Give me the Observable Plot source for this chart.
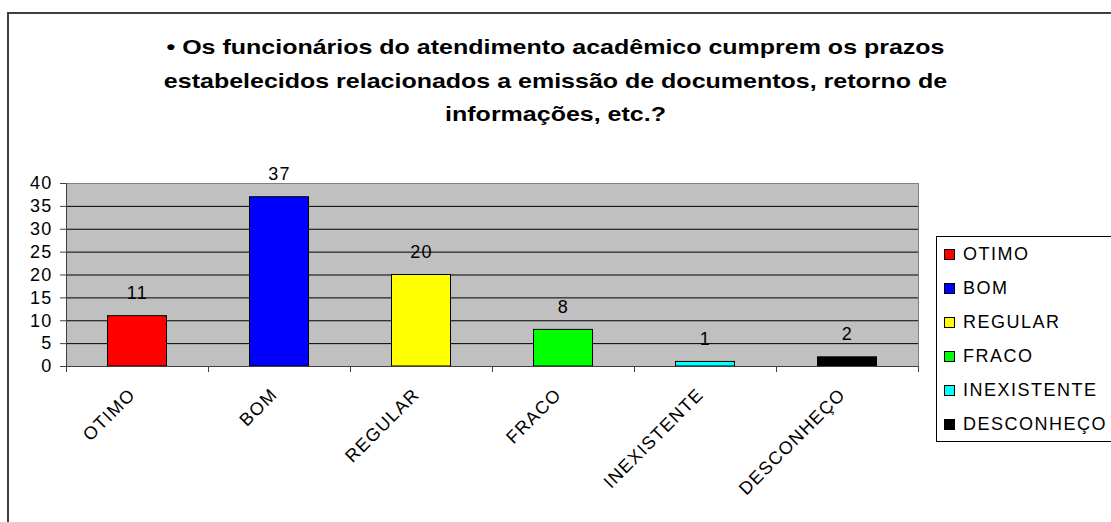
<!DOCTYPE html>
<html><head><meta charset="utf-8">
<script src="https://cdn.jsdelivr.net/npm/d3@7"></script>
<script src="https://cdn.jsdelivr.net/npm/@observablehq/plot@0.6"></script>
<style>
body{margin:0;background:#fff;font-family:"Liberation Sans",Arial,sans-serif;}
#wrap{position:relative;width:1111px;height:522px;overflow:hidden;background:#fff;}
#border{position:absolute;left:7px;top:12px;width:1200px;height:600px;border:2px solid #404040;}
#title{position:absolute;left:0;top:30px;width:1111px;text-align:center;font-weight:bold;font-size:21px;line-height:33.5px;color:#000;transform:scaleX(1.19);transform-origin:555.5px 0;}
#chart{position:absolute;left:0;top:140px;}
#chart svg text{letter-spacing:1.3px;}
#legend{position:absolute;left:936px;top:236px;width:200px;height:204px;border:1px solid #000;background:#fff;}
.item{height:34px;display:flex;align-items:center;font-size:18px;letter-spacing:1.5px;color:#000;white-space:nowrap;}
.sw{width:9px;height:9px;border:1px solid #000;margin-left:7px;margin-right:8px;flex:none;}
</style></head><body>
<div id="wrap">
  <div id="border"></div>
  <div id="title"></div>
  <div id="chart"></div>
  <div id="legend"></div>
</div>
<script>
const categories = ["OTIMO","BOM","REGULAR","FRACO","INEXISTENTE","DESCONHEÇO"];
const values = [11,37,20,8,1,2];
const colors = ["#FF0000","#0000FF","#FFFF00","#00FF00","#00FFFF","#000000"];
const yTicks = [0,5,10,15,20,25,30,35,40];
const titleLines = [
  "• Os funcionários do atendimento acadêmico cumprem os prazos",
  "estabelecidos relacionados a emissão de documentos, retorno de",
  "informações, etc.?"
];

const data = categories.map((c,i)=>({cat:c, value:values[i], color:colors[i]}));

document.getElementById("title").innerHTML = titleLines.join("<br>");

const lastCat = categories[categories.length-1];
const chart = Plot.plot({
  width: 930, height: 382,
  marginTop: 43, marginLeft: 66, marginRight: 12, marginBottom: 156,
  style: {fontFamily: "Liberation Sans, Arial, sans-serif", fontSize: "18px", color: "#000", background: "transparent"},
  x: {domain: categories, padding: 0, axis: null},
  y: {domain: [0, 40], axis: null},
  color: {type: "identity"},
  marks: [
    Plot.frame({fill: "#C0C0C0", stroke: "#808080"}),
    Plot.gridY(yTicks.slice(1, -1), {stroke: "#000", strokeOpacity: 1}),
    Plot.barY(data, {x: "cat", y: "value", fill: "color", stroke: "#000", insetLeft: 41.5, insetRight: 41.5}),
    Plot.ruleY([0], {stroke: "#404040"}),
    Plot.frame({anchor: "left", stroke: "#404040"}),
    Plot.axisY(yTicks, {tickSize: 6, tickPadding: 8, stroke: "#404040", fill: "#000", fontSize: 18, label: null}),
    Plot.ruleX(categories, {x: d => d, dx: -71, y1: 0, y2: 0, insetBottom: -6, stroke: "#404040"}),
    Plot.ruleX([lastCat], {x: d => d, dx: 71, y1: 0, y2: 0, insetBottom: -6, stroke: "#404040"}),
    Plot.text(data, {x: "cat", y: "value", text: d => String(d.value), lineAnchor: "bottom", dy: -17, fontSize: 18, fill: "#000"}),
    Plot.text(categories, {x: d => d, y: 0, text: d => d, rotate: -45, textAnchor: "end", lineAnchor: "middle", dx: -5, dy: 25, fontSize: 18, fill: "#000"})
  ]
});
document.getElementById("chart").appendChild(chart);

const legend = document.getElementById("legend");
categories.forEach((c,i)=>{
  const row = document.createElement("div");
  row.className = "item";
  const sw = document.createElement("span");
  sw.className = "sw";
  sw.style.background = colors[i];
  row.appendChild(sw);
  row.appendChild(document.createTextNode(c));
  legend.appendChild(row);
});
</script>
</body></html>
